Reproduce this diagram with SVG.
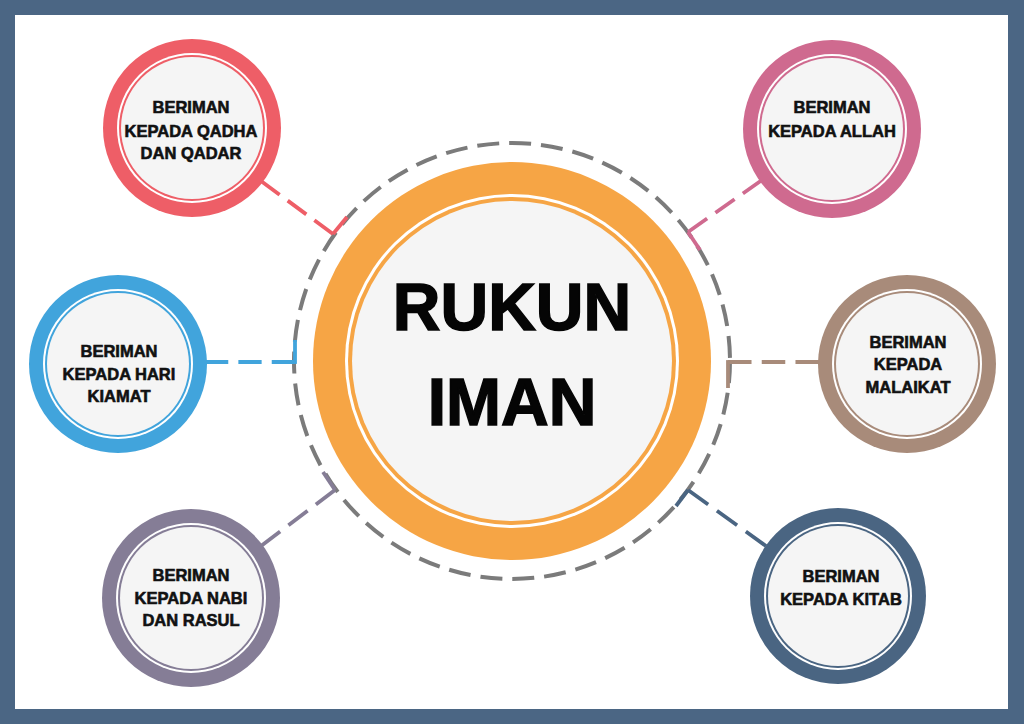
<svg xmlns="http://www.w3.org/2000/svg" width="1024" height="724" viewBox="0 0 1024 724">
<style>
.lbl{font-family:"Liberation Sans",Arial,sans-serif;font-weight:bold;font-size:16.5px;fill:#111;text-anchor:middle;stroke:#111;stroke-width:0.6px}
.title{font-family:"Liberation Sans",Arial,sans-serif;font-weight:bold;font-size:66px;fill:#050505;text-anchor:middle;stroke:#050505;stroke-width:1.5px}
.conn{fill:none;stroke-width:3.8;stroke-dasharray:23 10}
.hook{fill:none;stroke-width:3.8}
.white{fill:#ffffff}
.core{fill:#f5f5f5}
</style>
<rect x="0" y="0" width="1024" height="724" fill="#4b6684"/>
<rect x="15" y="15" width="993" height="694" fill="#ffffff"/>

<g id="connectors">
<circle cx="512" cy="361" r="218" fill="none" stroke="#7b7b7b" stroke-width="4" stroke-dasharray="22 10"/>
<path class="conn" stroke="#ee5e67" pathLength="89" d="M333,234 L261,181"/>
<path class="hook" stroke="#ee5e67" d="M333,234 L347,217"/>
<path class="conn" stroke="#cf6a8f" pathLength="89" d="M688,232 L762,180"/>
<path class="hook" stroke="#cf6a8f" d="M688,232 L700,250"/>
<path class="conn" stroke="#41a4dc" pathLength="89" d="M295,362 L205,362"/>
<path class="hook" stroke="#41a4dc" d="M295,363.9 L295,340"/>
<path class="conn" stroke="#a88b7a" pathLength="89" d="M728,362 L819,362"/>
<path class="hook" stroke="#a88b7a" d="M728,360.1 L728,388"/>
<path class="conn" stroke="#857d96" pathLength="89" d="M335,490 L261,546"/>
<path class="hook" stroke="#857d96" d="M335,490 L323,472"/>
<path class="conn" stroke="#4a6582" pathLength="89" d="M688,490 L766,546"/>
<path class="hook" stroke="#4a6582" d="M688,490 L676,506"/>
</g>

<g id="center">
<circle cx="512" cy="361" r="199" fill="#f6a545"/>
<circle cx="512" cy="361" r="167" class="white"/>
<circle cx="512" cy="361" r="164" fill="#f6a545"/>
<circle cx="512" cy="361" r="160" class="core"/>
<text class="title" x="512" y="330">RUKUN</text>
<text class="title" x="512" y="425">IMAN</text>
</g>

<g id="node-qadha">
<circle cx="192" cy="128" r="89" fill="#ee5e67"/>
<circle cx="192" cy="128" r="75" class="white"/>
<circle cx="192" cy="128" r="73" fill="#ee5e67"/>
<circle cx="192" cy="128" r="71" class="core"/>
<text class="lbl" x="191" y="113">BERIMAN</text>
<text class="lbl" x="191" y="137">KEPADA QADHA</text>
<text class="lbl" x="191" y="159">DAN QADAR</text>
</g>

<g id="node-allah">
<circle cx="832" cy="129" r="89" fill="#cf6a8f"/>
<circle cx="832" cy="129" r="75" class="white"/>
<circle cx="832" cy="129" r="73" fill="#cf6a8f"/>
<circle cx="832" cy="129" r="71" class="core"/>
<text class="lbl" x="832" y="113">BERIMAN</text>
<text class="lbl" x="832" y="137">KEPADA ALLAH</text>
</g>

<g id="node-kiamat">
<circle cx="118" cy="364" r="89" fill="#41a4dc"/>
<circle cx="118" cy="364" r="75" class="white"/>
<circle cx="118" cy="364" r="73" fill="#41a4dc"/>
<circle cx="118" cy="364" r="71" class="core"/>
<text class="lbl" x="119" y="357">BERIMAN</text>
<text class="lbl" x="119" y="380">KEPADA HARI</text>
<text class="lbl" x="119" y="402">KIAMAT</text>
</g>

<g id="node-malaikat">
<circle cx="907" cy="364" r="89" fill="#a88b7a"/>
<circle cx="907" cy="364" r="75" class="white"/>
<circle cx="907" cy="364" r="73" fill="#a88b7a"/>
<circle cx="907" cy="364" r="71" class="core"/>
<text class="lbl" x="908" y="348">BERIMAN</text>
<text class="lbl" x="908" y="370">KEPADA</text>
<text class="lbl" x="908" y="393">MALAIKAT</text>
</g>

<g id="node-nabi">
<circle cx="191" cy="598" r="89" fill="#857d96"/>
<circle cx="191" cy="598" r="75" class="white"/>
<circle cx="191" cy="598" r="73" fill="#857d96"/>
<circle cx="191" cy="598" r="71" class="core"/>
<text class="lbl" x="191" y="581">BERIMAN</text>
<text class="lbl" x="191" y="604">KEPADA NABI</text>
<text class="lbl" x="191" y="626">DAN RASUL</text>
</g>

<g id="node-kitab">
<circle cx="838" cy="596" r="88" fill="#4a6582"/>
<circle cx="838" cy="596" r="74" class="white"/>
<circle cx="838" cy="596" r="72" fill="#4a6582"/>
<circle cx="838" cy="596" r="70" class="core"/>
<text class="lbl" x="841" y="582">BERIMAN</text>
<text class="lbl" x="841" y="605">KEPADA KITAB</text>
</g>
</svg>
